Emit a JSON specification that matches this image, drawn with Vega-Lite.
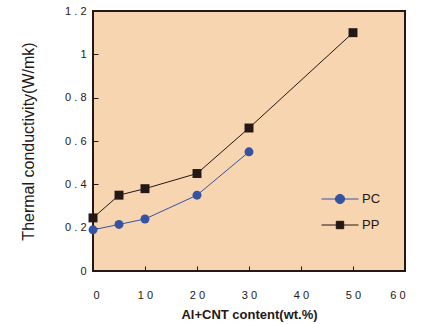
{
  "$schema": "https://vega.github.io/schema/vega-lite/v6.json",
  "width": 312,
  "height": 260,
  "autosize": {"type": "none"},
  "padding": {"left": 93, "top": 11, "right": 22, "bottom": 53},
  "background": "white",
  "config": {
    "font": "Liberation Sans",
    "view": {"fill": "#f6d5b0", "stroke": "#231815", "strokeWidth": 2},
    "axis": {
      "domain": false,
      "grid": false,
      "tickColor": "#231815",
      "tickSize": -5,
      "tickWidth": 1,
      "labelFont": "Liberation Sans",
      "labelFontSize": 11,
      "labelColor": "#231815",
      "titleColor": "#231815",
      "titleFont": "Liberation Sans"
    }
  },
  "data": {
    "values": [
      {"x": 0, "y": 0.19, "s": "PC"},
      {"x": 5, "y": 0.215, "s": "PC"},
      {"x": 10, "y": 0.24, "s": "PC"},
      {"x": 20, "y": 0.35, "s": "PC"},
      {"x": 30, "y": 0.55, "s": "PC"},
      {"x": 0, "y": 0.245, "s": "PP"},
      {"x": 5, "y": 0.35, "s": "PP"},
      {"x": 10, "y": 0.38, "s": "PP"},
      {"x": 20, "y": 0.45, "s": "PP"},
      {"x": 30, "y": 0.66, "s": "PP"},
      {"x": 50, "y": 1.1, "s": "PP"}
    ]
  },
  "encoding": {
    "x": {
      "field": "x", "type": "quantitative",
      "scale": {"domain": [0, 60], "nice": false},
      "axis": {
        "values": [0, 10, 20, 30, 40, 50, 60],
        "labelPadding": 23,
        "labelExpr": "replace(format(datum.value, '~g'), regexp('(.)(?=.)', 'g'), '$1 ')",
        "title": "Al+CNT content(wt.%)",
        "titleFontSize": 13,
        "titleFontWeight": "bold",
        "titlePadding": 8
      }
    },
    "y": {
      "field": "y", "type": "quantitative",
      "scale": {"domain": [0, 1.2], "nice": false},
      "axis": {
        "values": [0, 0.2, 0.4, 0.6, 0.8, 1, 1.2],
        "labelPadding": 12,
        "labelExpr": "replace(format(datum.value, '~g'), regexp('(.)(?=.)', 'g'), '$1 ')",
        "title": "Thermal conductivity(W/mk)",
        "titleFontSize": 16,
        "titleFontWeight": "normal",
        "titlePadding": 28
      }
    },
    "color": {
      "field": "s", "type": "nominal",
      "scale": {"domain": ["PC", "PP"], "range": ["#3552a3", "#231815"]},
      "legend": {
        "title": null,
        "orient": "none",
        "legendX": 228,
        "legendY": 169,
        "symbolSize": 1369,
        "symbolStrokeWidth": 1,
        "rowPadding": -15,
        "labelFontSize": 13,
        "labelColor": "#231815",
        "labelOffset": 3,
        "encode": {
          "symbols": {
            "update": {
              "shape": {"signal": "datum.value == 'PC' ? 'M-1,0H1M-0.25,0A0.25,0.25,0,1,1,0.25,0A0.25,0.25,0,1,1,-0.25,0Z' : 'M-1,0H1M-0.2,-0.2H0.2V0.2H-0.2Z'"},
              "fill": {"signal": "datum.value == 'PC' ? '#3552a3' : '#231815'"},
              "stroke": {"signal": "datum.value == 'PC' ? '#3552a3' : '#231815'"},
              "fillOpacity": {"value": 1}
            }
          }
        }
      }
    }
  },
  "layer": [
    {"mark": {"type": "line", "strokeWidth": 1}},
    {
      "transform": [{"filter": "datum.s == 'PC'"}],
      "mark": {"type": "point", "shape": "circle", "filled": true, "opacity": 1, "size": 80}
    },
    {
      "transform": [{"filter": "datum.s == 'PP'"}],
      "mark": {"type": "point", "shape": "square", "filled": true, "opacity": 1, "size": 80}
    }
  ]
}
